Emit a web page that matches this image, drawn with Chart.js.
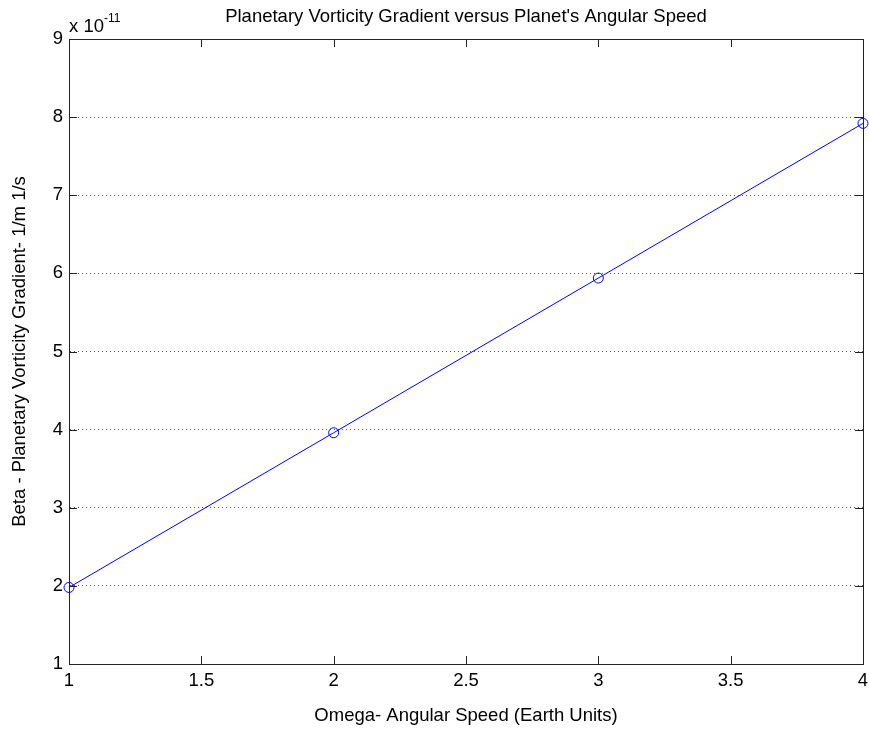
<!DOCTYPE html>
<html>
<head>
<meta charset="utf-8">
<script src="https://cdn.jsdelivr.net/npm/chart.js@4/dist/chart.umd.min.js"></script>
<style>
  body { margin: 0; background: #fff; }
  #wrap { width: 869px; height: 729px; position: relative; }
</style>
</head>
<body>
<div id="wrap"><canvas id="chart" width="869" height="729"></canvas></div>
<script>
// data (beta in units of 1e-11)
const omega = [1, 2, 3, 4];
const beta = [1.98, 3.96, 5.94, 7.92];
const exponentText = '-11';

const FONT = '"Liberation Sans", Arial, Helvetica, sans-serif';

// box round the plot, inward ticks, exponent label
const matlabAxes = {
    id: 'matlabAxes',
    afterDraw(chart) {
        const ctx = chart.ctx;
        const a = chart.chartArea;
        const xs = chart.scales.x, ys = chart.scales.y;
        ctx.save();
        ctx.strokeStyle = '#222';
        ctx.lineWidth = 1;
        ctx.strokeRect(Math.round(a.left) + 0.5, Math.round(a.top) + 0.5,
            Math.round(a.right - a.left), Math.round(a.bottom - a.top));
        ctx.beginPath();
        xs.ticks.forEach(t => {
            const px = Math.round(xs.getPixelForValue(t.value)) + 0.5;
            ctx.moveTo(px, a.bottom); ctx.lineTo(px, a.bottom - 8);
            ctx.moveTo(px, a.top); ctx.lineTo(px, a.top + 8);
        });
        ys.ticks.forEach(t => {
            const py = Math.round(ys.getPixelForValue(t.value)) + 0.5;
            ctx.moveTo(a.left, py); ctx.lineTo(a.left + 8, py);
            ctx.moveTo(a.right, py); ctx.lineTo(a.right - 8, py);
        });
        ctx.stroke();

        // "x 10^-11"
        ctx.fillStyle = '#000';
        ctx.textBaseline = 'alphabetic';
        ctx.textAlign = 'left';
        ctx.font = '18.5px ' + FONT;
        const base = 'x 10';
        ctx.fillText(base, a.left, 32);
        const w = ctx.measureText(base).width;
        ctx.font = '12px ' + FONT;
        ctx.fillText(exponentText, a.left + w, 22);
        ctx.restore();
    }
};

new Chart(document.getElementById('chart').getContext('2d'), {
    type: 'line',
    data: {
        datasets: [{
            data: omega.map((x, i) => ({ x: x, y: beta[i] })),
            borderColor: 'rgb(0,0,255)',
            borderWidth: 1,
            backgroundColor: 'rgba(0,0,0,0)',
            pointStyle: 'circle',
            pointRadius: 5,
            pointBorderWidth: 1,
            pointBorderColor: 'rgb(0,0,255)',
            pointBackgroundColor: 'rgba(0,0,0,0)',
            tension: 0,
            clip: false
        }]
    },
    options: {
        responsive: false,
        animation: false,
        layout: { padding: { left: 0, right: 6, top: 0, bottom: 0 } },
        plugins: {
            legend: { display: false },
            tooltip: { enabled: false },
            title: {
                display: true,
                fullSize: false,
                text: "Planetary Vorticity Gradient versus Planet's Angular Speed",
                color: '#000',
                font: { family: FONT, size: 18.5, weight: 'normal', lineHeight: 1.2 },
                padding: { top: 6, bottom: 10.8 }
            }
        },
        scales: {
            x: {
                type: 'linear',
                min: 1,
                max: 4,
                grid: { display: false, drawTicks: false },
                border: { display: true, color: '#222' },
                ticks: {
                    stepSize: 0.5,
                    padding: 6,
                    color: '#000',
                    font: { family: FONT, size: 18.5 },
                    maxRotation: 0,
                    callback: v => String(v)
                },
                title: {
                    display: true,
                    text: 'Omega- Angular Speed (Earth Units)',
                    color: '#000',
                    font: { family: FONT, size: 18.5, lineHeight: 1.2 },
                    padding: { top: 0, bottom: 2 }
                },
                afterFit: s => { s.height = 65; s.paddingLeft = 0; s.paddingRight = 0; }
            },
            y: {
                type: 'linear',
                min: 1,
                max: 9,
                grid: { color: '#555', lineWidth: 1, drawTicks: false },
                border: { display: true, color: '#222', dash: [1, 3] },
                ticks: {
                    stepSize: 1,
                    padding: 6,
                    color: '#000',
                    font: { family: FONT, size: 18.5 }
                },
                title: {
                    display: true,
                    text: 'Beta - Planetary Vorticity Gradient- 1/m 1/s',
                    color: '#000',
                    font: { family: FONT, size: 18.5, lineHeight: 1.2 },
                    padding: { top: 9, bottom: 0 }
                },
                afterFit: s => { s.width = 69; s.paddingTop = 0; s.paddingBottom = 0; }
            }
        }
    },
    plugins: [matlabAxes]
});
</script>
</body>
</html>
